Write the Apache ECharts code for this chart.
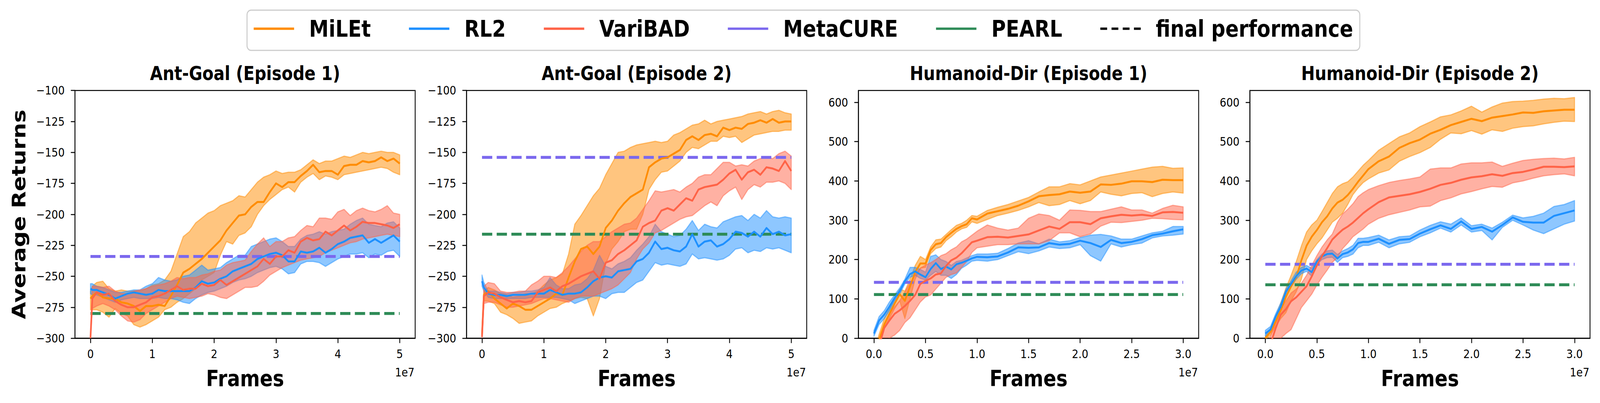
<!DOCTYPE html>
<html><head><meta charset="utf-8">
<script src="https://cdn.jsdelivr.net/npm/echarts@6/dist/echarts.min.js"></script>
<style>html,body{margin:0;padding:0;background:#fff;overflow:hidden}#c{width:4793px;height:1032px;transform-origin:0 0}</style>
</head><body><div id="c"></div>
<script>
// ---------- DATA (frames in units of 1e7) ----------
const methodNames = ['MiLEt', 'RL2', 'VariBAD'];
const baselineNames = ['MetaCURE', 'PEARL'];
const legendNames = ['MiLEt', 'RL2', 'VariBAD', 'MetaCURE', 'PEARL', 'final performance'];
const panelTitles = ['Ant-Goal (Episode 1)', 'Ant-Goal (Episode 2)', 'Humanoid-Dir (Episode 1)', 'Humanoid-Dir (Episode 2)'];

const antFrames = [0,0.03,0.1,0.2,0.3,0.4,0.5,0.6,0.7,0.8,0.9,1.0,1.1,1.2,1.3,1.4,1.5,1.6,1.7,1.8,1.9,2.0,2.1,2.2,2.3,2.4,2.5,2.6,2.7,2.8,2.9,3.0,3.1,3.2,3.3,3.4,3.5,3.6,3.7,3.8,3.9,4.0,4.1,4.2,4.3,4.4,4.5,4.6,4.7,4.8,4.9,5.0];
const humFrames = [0,0.05,0.1,0.15,0.2,0.25,0.3,0.35,0.4,0.45,0.5,0.55,0.6,0.65,0.7,0.75,0.8,0.85,0.9,0.95,1.0,1.1,1.2,1.3,1.4,1.5,1.6,1.7,1.8,1.9,2.0,2.1,2.2,2.3,2.4,2.5,2.6,2.7,2.8,2.9,3.0];

const antXTicks = [0,1,2,3,4,5];
const humXTicks = [0,0.5,1,1.5,2,2.5,3];
const antYTicks = [-300,-275,-250,-225,-200,-175,-150,-125,-100];
const humYTicks = [0,100,200,300,400,500,600];

// Ant-Goal (Episode 1)
const antG1MiletMean = [-268,-266,-263,-267,-268,-268,-271,-272,-274,-278,-274,-274,-273,-274,-266,-257,-247,-244,-240,-236,-231,-226,-221,-213,-207,-201,-200,-194,-190,-190,-182,-175,-178,-174,-174,-169,-165,-160,-166,-165,-165,-168,-161,-160,-160,-157,-158,-157,-154,-157,-155,-159];
const antG1MiletHi = [-262,-258,-255,-254,-260,-262,-261,-262,-262,-262,-260,-257,-256,-253,-246,-232,-218,-214,-207,-203,-199,-197,-193,-191,-189,-185,-186,-180,-174,-170,-168,-165,-167,-166,-166,-164,-160,-156,-159,-157,-157,-155,-153,-154,-152,-150,-151,-150,-149,-150,-150,-152];
const antG1MiletLo = [-277,-277,-277,-279,-283,-276,-280,-282,-289,-291,-289,-286,-283,-277,-275,-271,-268,-264,-260,-253,-250,-247,-233,-222,-224,-217,-215,-210,-200,-193,-188,-184,-180,-178,-182,-174,-170,-167,-172,-169,-170,-172,-168,-167,-166,-165,-164,-163,-162,-163,-166,-168];
const antG1Rl2Mean = [-260,-261,-261,-263,-265,-268,-266,-264,-263,-264,-265,-264,-261,-262,-262,-262,-262,-262,-259,-254,-256,-255,-252,-250,-246,-244,-242,-240,-236,-234,-232,-231,-233,-238,-238,-230,-231,-230,-227,-231,-228,-224,-222,-219,-218,-217,-223,-220,-223,-220,-217,-222];
const antG1Rl2Hi = [-256,-256,-258,-259,-261,-263,-263,-262,-261,-261,-258,-256,-251,-253,-254,-253,-250,-249,-245,-241,-245,-244,-243,-239,-236,-233,-233,-226,-224,-222,-220,-219,-222,-226,-226,-220,-217,-216,-214,-216,-214,-213,-212,-208,-205,-203,-208,-209,-210,-207,-206,-211];
const antG1Rl2Lo = [-264,-265,-265,-267,-269,-271,-269,-268,-267,-268,-268,-268,-267,-268,-268,-269,-271,-272,-268,-265,-263,-262,-260,-258,-255,-253,-252,-250,-247,-245,-243,-242,-244,-248,-247,-240,-238,-238,-239,-242,-239,-236,-234,-232,-232,-231,-235,-232,-233,-230,-229,-234];
const antG1VariMean = [-300,-268,-263,-265,-264,-270,-273,-275,-275,-273,-271,-267,-266,-264,-261,-258,-261,-260,-260,-256,-258,-257,-253,-257,-254,-251,-248,-245,-242,-236,-240,-234,-234,-229,-231,-222,-219,-221,-220,-214,-217,-213,-209,-213,-210,-206,-207,-207,-208,-209,-211,-208];
const antG1VariHi = [-300,-258,-258,-259,-258,-262,-264,-264,-262,-261,-260,-258,-257,-256,-254,-251,-252,-251,-251,-249,-248,-246,-245,-241,-239,-238,-237,-230,-224,-219,-226,-222,-222,-219,-218,-213,-209,-210,-203,-203,-204,-198,-196,-201,-197,-195,-197,-198,-196,-193,-199,-200];
const antG1VariLo = [-300,-276,-274,-272,-274,-277,-282,-286,-287,-285,-280,-277,-274,-271,-268,-266,-267,-268,-267,-266,-264,-265,-267,-268,-265,-262,-259,-259,-258,-254,-249,-246,-243,-241,-239,-237,-236,-235,-234,-231,-229,-227,-225,-223,-222,-220,-219,-218,-217,-216,-217,-218];

// Ant-Goal (Episode 2)
const antG2MiletMean = [-297,-265,-262,-268,-272,-276,-272,-274,-277,-277,-274,-271,-268,-264,-265,-251,-238,-228,-226,-232,-226,-211,-205,-197,-191,-186,-183,-180,-162,-158,-155,-154,-151,-148,-140,-137,-140,-136,-135,-137,-130,-132,-130,-131,-127,-126,-124,-126,-123,-126,-125,-125];
const antG2MiletHi = [-297,-262,-259,-261,-264,-265,-267,-266,-264,-264,-262,-257,-253,-251,-248,-232,-208,-201,-193,-185,-179,-168,-159,-150,-149,-146,-144,-143,-142,-141,-142,-141,-136,-134,-131,-128,-127,-124,-127,-125,-124,-123,-122,-121,-119,-118,-117,-119,-117,-116,-118,-119];
const antG2MiletLo = [-297,-270,-270,-272,-279,-281,-284,-288,-287,-286,-282,-279,-276,-275,-272,-270,-268,-267,-268,-282,-268,-240,-228,-222,-214,-212,-212,-200,-180,-172,-166,-165,-161,-157,-150,-146,-147,-144,-141,-141,-137,-138,-137,-142,-139,-136,-135,-134,-133,-133,-132,-132];
const antG2Rl2Mean = [-254,-259,-264,-265,-265,-266,-265,-265,-265,-264,-264,-264,-261,-263,-265,-264,-264,-263,-259,-254,-251,-250,-251,-246,-245,-244,-238,-236,-231,-222,-228,-227,-229,-230,-226,-216,-226,-222,-221,-226,-224,-220,-214,-215,-218,-214,-218,-211,-216,-214,-217,-216];
const antG2Rl2Hi = [-249,-255,-262,-262,-263,-264,-263,-263,-262,-262,-261,-259,-251,-257,-260,-260,-257,-256,-252,-245,-233,-242,-244,-240,-238,-235,-229,-224,-218,-208,-214,-216,-218,-217,-212,-205,-213,-208,-210,-211,-206,-204,-202,-201,-205,-200,-203,-197,-202,-203,-202,-203];
const antG2Rl2Lo = [-258,-262,-267,-268,-268,-268,-268,-268,-268,-267,-267,-267,-267,-267,-268,-269,-272,-270,-268,-266,-266,-268,-264,-263,-263,-259,-255,-253,-246,-239,-241,-240,-241,-242,-240,-232,-236,-235,-236,-237,-236,-233,-228,-227,-231,-229,-230,-227,-228,-227,-229,-231];
const antG2VariMean = [-299,-266,-263,-264,-267,-269,-271,-270,-271,-270,-263,-261,-259,-262,-258,-256,-253,-250,-248,-246,-252,-239,-237,-232,-229,-225,-221,-210,-207,-205,-197,-195,-197,-192,-187,-189,-180,-178,-177,-176,-172,-167,-164,-172,-166,-164,-168,-162,-163,-165,-157,-165];
const antG2VariHi = [-299,-258,-255,-256,-262,-263,-263,-262,-262,-257,-254,-250,-250,-251,-247,-242,-236,-230,-225,-222,-222,-218,-214,-211,-208,-207,-203,-196,-189,-181,-182,-181,-180,-182,-178,-175,-170,-168,-168,-163,-158,-158,-161,-160,-161,-157,-155,-154,-155,-151,-149,-153];
const antG2VariLo = [-300,-272,-271,-271,-273,-275,-275,-274,-273,-272,-270,-268,-268,-269,-270,-271,-268,-266,-266,-266,-264,-262,-260,-257,-252,-247,-236,-228,-223,-215,-213,-210,-207,-204,-202,-201,-197,-193,-190,-193,-185,-181,-178,-188,-180,-176,-178,-174,-174,-173,-175,-180];

// Humanoid-Dir (Episode 1)
const humD1MiletMean = [-40,-5,35,62,88,112,95,132,168,190,190,224,239,242,257,268,278,285,290,305,302,317,323,329,337,348,361,364,366,373,370,373,391,390,393,399,399,397,403,402,402];
const humD1MiletHi = [-30,10,50,75,100,125,120,150,185,208,200,232,250,252,264,276,287,292,300,312,310,325,333,340,349,358,372,385,385,393,390,400,410,415,420,425,430,435,437,432,433];
const humD1MiletLo = [-50,-15,25,50,75,95,50,100,150,178,180,215,228,232,248,258,270,278,282,296,292,302,312,318,325,334,345,337,340,350,342,350,372,366,362,368,370,360,368,372,369];
const humD1Rl2Mean = [12,45,60,80,102,120,145,163,170,162,155,176,191,176,182,175,188,192,197,203,207,206,208,218,231,230,231,242,238,240,248,242,232,250,242,245,252,262,266,272,277];
const humD1Rl2Hi = [20,55,70,92,110,128,150,180,180,175,168,208,212,200,195,185,195,198,204,210,214,214,216,228,242,248,240,252,245,248,256,262,264,260,252,252,260,268,272,284,284];
const humD1Rl2Lo = [5,35,50,70,95,112,138,155,160,152,148,160,170,160,160,152,162,178,186,196,198,196,200,210,220,215,222,232,228,230,238,210,196,240,232,238,242,255,260,262,265];
const humD1VariMean = [-60,-20,26,45,62,71,82,95,110,138,146,152,162,165,184,198,205,216,230,244,248,257,258,256,260,264,274,284,278,295,295,290,305,310,314,312,314,311,320,321,319];
const humD1VariHi = [-40,0,35,62,80,95,118,140,160,178,186,192,200,210,215,225,232,245,252,262,272,288,280,275,280,305,316,312,300,326,325,322,322,328,334,326,326,318,330,338,334];
const humD1VariLo = [-80,-40,-10,0,8,20,40,52,72,92,105,110,125,140,155,162,166,180,195,218,230,234,238,238,240,240,240,248,268,268,258,265,285,295,294,297,300,305,304,302,301];

// Humanoid-Dir (Episode 2)
const humD2MiletMean = [0,16,42,72,105,132,155,198,235,258,275,295,310,330,345,352,364,380,398,414,430,450,462,484,496,505,520,530,542,550,558,552,561,565,569,574,573,577,579,581,581];
const humD2MiletHi = [5,25,55,90,128,160,195,235,270,288,300,322,345,368,385,393,398,410,425,440,452,478,495,512,522,538,550,563,568,578,590,575,588,598,602,603,605,608,610,609,612];
const humD2MiletLo = [-5,8,30,50,65,95,118,150,200,222,240,255,275,295,305,318,340,365,382,396,405,420,428,450,462,472,485,506,522,520,528,519,530,526,534,538,540,545,549,552,551];
const humD2Rl2Mean = [12,22,55,80,118,138,158,172,177,168,195,208,214,215,203,214,218,226,242,245,245,253,240,250,252,266,277,287,278,297,278,283,271,288,307,296,294,294,311,318,325];
const humD2Rl2Hi = [20,30,62,90,125,146,168,180,185,178,200,214,222,224,213,222,228,236,254,254,256,262,250,258,260,275,287,296,290,306,286,290,280,295,313,306,310,318,335,340,350];
const humD2Rl2Lo = [5,14,46,70,108,130,150,164,170,158,188,200,205,206,193,205,208,214,230,236,236,244,230,240,244,258,268,280,270,288,270,274,250,282,300,288,275,266,278,290,298];
const humD2VariMean = [-40,-15,25,60,74,94,104,118,132,157,185,209,229,251,264,276,284,294,306,318,328,346,358,362,366,372,380,390,395,403,409,412,417,413,420,423,429,436,436,435,437];
const humD2VariHi = [-20,5,40,75,95,115,125,140,160,185,210,232,250,265,295,316,328,342,360,370,378,388,396,401,405,410,430,433,433,443,446,446,448,437,445,452,455,457,458,456,460];
const humD2VariLo = [-80,-60,-30,0,12,22,50,78,95,112,135,155,173,193,205,228,242,258,268,278,290,305,314,320,326,334,336,350,357,367,373,380,386,384,395,400,407,413,416,418,413];

// Final performance of the baselines, per panel
const metaCureFinal = [-234, -154, 142, 188];
const pearlFinal = [-280, -216, 111, 136];

// ---------- FIT THE 4793x1032 FIGURE INTO THE ACTUAL VIEWPORT ----------
const FIG_W = 4793, FIG_H = 1032;
const sx = (window.innerWidth || FIG_W) / FIG_W, sy = (window.innerHeight || FIG_H) / FIG_H;
document.getElementById('c').style.transform = 'scale(' + sx + ',' + sy + ')';

// ---------- CHART ----------
const FONT = 'DejaVu Sans';
const colors = { 'MiLEt': '#ff8c00', 'RL2': '#1e90ff', 'VariBAD': '#ff6347', 'MetaCURE': '#7b68ee', 'PEARL': '#2e8b57', 'final performance': '#000000' };
const rgb = { 'MiLEt': '255,140,0', 'RL2': '30,144,255', 'VariBAD': '255,99,71' };

const panels = [
  { frames: antFrames, xMin: -0.25, xMax: 5.25, xEnd: 5, xTicks: antXTicks, yMin: -300, yMax: -100, yTicks: antYTicks, fmtX: v => String(v),
    mean: [antG1MiletMean, antG1Rl2Mean, antG1VariMean], hi: [antG1MiletHi, antG1Rl2Hi, antG1VariHi], lo: [antG1MiletLo, antG1Rl2Lo, antG1VariLo] },
  { frames: antFrames, xMin: -0.25, xMax: 5.25, xEnd: 5, xTicks: antXTicks, yMin: -300, yMax: -100, yTicks: antYTicks, fmtX: v => String(v),
    mean: [antG2MiletMean, antG2Rl2Mean, antG2VariMean], hi: [antG2MiletHi, antG2Rl2Hi, antG2VariHi], lo: [antG2MiletLo, antG2Rl2Lo, antG2VariLo] },
  { frames: humFrames, xMin: -0.15, xMax: 3.15, xEnd: 3, xTicks: humXTicks, yMin: 0, yMax: 630, yTicks: humYTicks, fmtX: v => Number(v).toFixed(1),
    mean: [humD1MiletMean, humD1Rl2Mean, humD1VariMean], hi: [humD1MiletHi, humD1Rl2Hi, humD1VariHi], lo: [humD1MiletLo, humD1Rl2Lo, humD1VariLo] },
  { frames: humFrames, xMin: -0.15, xMax: 3.15, xEnd: 3, xTicks: humXTicks, yMin: 0, yMax: 630, yTicks: humYTicks, fmtX: v => Number(v).toFixed(1),
    mean: [humD2MiletMean, humD2Rl2Mean, humD2VariMean], hi: [humD2MiletHi, humD2Rl2Hi, humD2VariHi], lo: [humD2MiletLo, humD2Rl2Lo, humD2VariLo] }
];

const gridLefts = [224.7, 1397.6, 2571.7, 3744.1];
const gridW = 1019, gridTop = 231.7, gridH = 634.4;

const grids = [], xAxes = [], yAxes = [], series = [], titles = [];
const fmtY = v => (v < 0 ? '\u2212' + Math.abs(v) : String(v));

function bandSeries(i, frames, lo, hi, c) {
  return {
    type: 'custom', name: 'band', xAxisIndex: i, yAxisIndex: i, z: 1, silent: true, animation: false, clip: true,
    data: [[frames[0], lo[0]]],
    renderItem: function (params, api) {
      const pts = [];
      for (let k = 0; k < frames.length; k++) pts.push(api.coord([frames[k], hi[k]]));
      for (let k = frames.length - 1; k >= 0; k--) pts.push(api.coord([frames[k], lo[k]]));
      const cs = params.coordSys;
      return {
        type: 'polygon', shape: { points: pts },
        style: { fill: 'rgba(' + c + ',0.5)', stroke: 'rgba(' + c + ',0.5)', lineWidth: 3, lineJoin: 'round' },
        clipPath: { type: 'rect', shape: { x: cs.x, y: cs.y, width: cs.width, height: cs.height } }
      };
    }
  };
}

panels.forEach((p, i) => {
  grids.push({ left: gridLefts[i], top: gridTop, width: gridW, height: gridH, show: true, borderColor: '#000', borderWidth: 2.5,
    backgroundColor: 'transparent', containLabel: false, outerBoundsMode: 'none' });
  xAxes.push({
    type: 'value', gridIndex: i, min: p.xMin, max: p.xMax,
    name: 'Frames', nameLocation: 'middle', nameGap: 75,
    nameTextStyle: { fontFamily: FONT, fontWeight: 'bold', fontSize: 57, color: '#000' },
    axisLine: { show: true, onZero: false, lineStyle: { color: '#000', width: 2.5 } },
    axisTick: { show: true, inside: false, length: 12.5, lineStyle: { color: '#000', width: 2.5 }, customValues: p.xTicks },
    axisLabel: { show: true, customValues: p.xTicks, formatter: p.fmtX, fontFamily: FONT, fontSize: 31, color: '#000', margin: 25 },
    splitLine: { show: false }
  });
  yAxes.push({
    type: 'value', gridIndex: i, min: p.yMin, max: p.yMax,
    name: i === 0 ? 'Average Returns' : '', nameLocation: 'middle', nameGap: 140,
    nameTextStyle: { fontFamily: FONT, fontWeight: 'bold', fontSize: 57, color: '#000' },
    axisLine: { show: true, onZero: false, lineStyle: { color: '#000', width: 2.5 } },
    axisTick: { show: true, inside: false, length: 12.5, lineStyle: { color: '#000', width: 2.5 }, customValues: p.yTicks },
    axisLabel: { show: true, customValues: p.yTicks, formatter: fmtY, fontFamily: FONT, fontSize: 31, color: '#000', margin: 31 },
    splitLine: { show: false }
  });
  // shaded bands
  methodNames.forEach((m, j) => series.push(bandSeries(i, p.frames, p.lo[j], p.hi[j], rgb[m])));
  // baselines (dashed)
  [metaCureFinal[i], pearlFinal[i]].forEach((lvl, j) => {
    const nm = baselineNames[j];
    series.push({
      type: 'line', name: nm, xAxisIndex: i, yAxisIndex: i, z: 2, animation: false, silent: true,
      data: [[0, lvl], [p.xEnd, lvl]], symbol: 'none', showSymbol: false,
      lineStyle: { color: colors[nm], width: 7.5, type: [30.7, 13.3], cap: 'butt' }, itemStyle: { color: colors[nm] }
    });
  });
  // mean curves
  methodNames.forEach((m, j) => {
    series.push({
      type: 'line', name: m, xAxisIndex: i, yAxisIndex: i, z: 3 + j, animation: false, silent: true, clip: true,
      data: p.frames.map((x, k) => [x, p.mean[j][k]]), symbol: 'none', showSymbol: false,
      lineStyle: { color: colors[m], width: 5, join: 'round' }, itemStyle: { color: colors[m] }
    });
  });
  titles.push({ text: panelTitles[i], left: gridLefts[i] + gridW / 2, top: 164, textAlign: 'center', padding: 0,
    textStyle: { fontFamily: FONT, fontWeight: 'bold', fontSize: 49, color: '#000' } });
  titles.push({ text: '1e7', left: gridLefts[i] + gridW - 2, top: 938, textAlign: 'right', padding: 0,
    textStyle: { fontFamily: FONT, fontWeight: 'normal', fontSize: 31, color: '#000' } });
});

// dummy series for the black dashed legend entry
series.push({ type: 'line', name: 'final performance', xAxisIndex: 0, yAxisIndex: 0, data: [], symbol: 'none',
  lineStyle: { color: '#000', type: 'dashed', width: 6 }, itemStyle: { color: '#000' } });

const solidIcon = 'path://M0,0 L121,0 L121,6 L0,6 Z';
const dashIcon = 'path://M0,0 L20,0 L20,6 L0,6 Z M33,0 L53,0 L53,6 L33,6 Z M66,0 L86,0 L86,6 L66,6 Z M99,0 L119,0 L119,6 L99,6 Z';

const option = {
  backgroundColor: '#ffffff',
  animation: false,
  title: titles,
  legend: {
    left: 740, top: 26, orient: 'horizontal', padding: [18, 20, 26, 20], itemGap: 114, itemWidth: 121, itemHeight: 60,
    borderColor: '#cccccc', borderWidth: 3, borderRadius: 12, backgroundColor: 'rgba(255,255,255,0.8)',
    selectedMode: false, symbolKeepAspect: true,
    itemStyle: { borderWidth: 0 },
    textStyle: { fontFamily: FONT, fontWeight: 'bold', fontSize: 59, color: '#000', padding: [0, 0, 0, 40] },
    data: legendNames.map(n => ({ name: n, icon: n === 'final performance' ? dashIcon : solidIcon, itemStyle: { color: colors[n], borderWidth: 0 } }))
  },
  grid: grids,
  xAxis: xAxes,
  yAxis: yAxes,
  series: series
};

const chart = echarts.init(document.getElementById('c'), null, { renderer: 'svg', width: FIG_W, height: FIG_H });
chart.setOption(option);
</script>
</body></html>
